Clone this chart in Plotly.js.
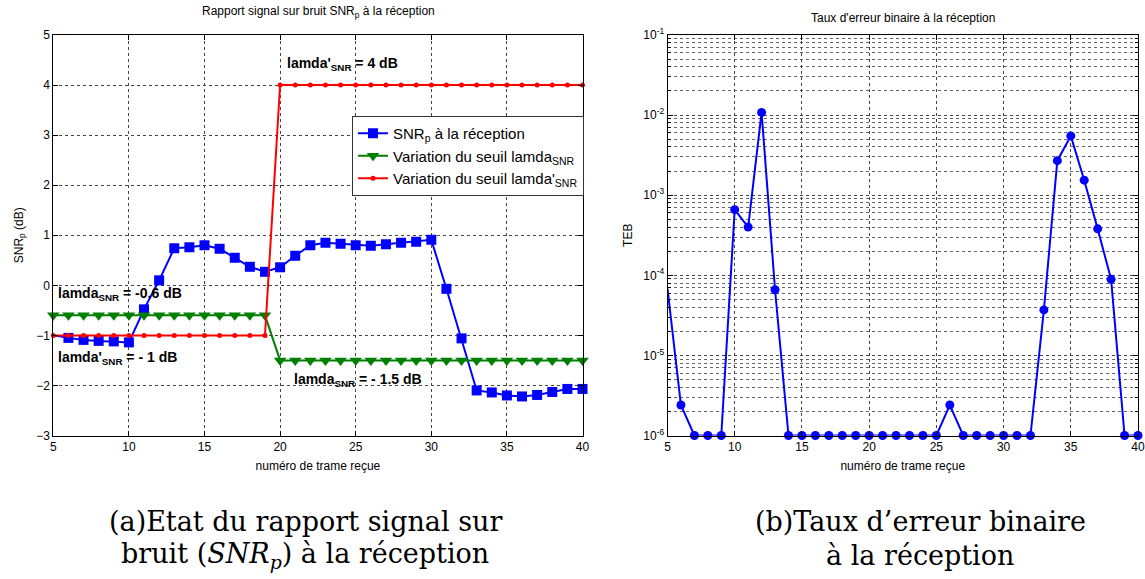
<!DOCTYPE html>
<html>
<head>
<meta charset="utf-8">
<script src="https://cdn.plot.ly/plotly-3.0.1.min.js"></script>
<style>html,body{margin:0;padding:0;background:#fff;}#chart{width:1145px;height:579px;}</style>
</head>
<body>
<div id="chart"></div>
<script>
// ---- Data ----
const frames = [5,6,7,8,9,10,11,12,13,14,15,16,17,18,19,20,21,22,23,24,25,26,27,28,29,30,31,32,33,34,35,36,37,38,39,40];
const snrP = [-1.0,-1.05,-1.09,-1.11,-1.12,-1.14,-0.48,0.1,0.74,0.76,0.8,0.73,0.55,0.37,0.27,0.36,0.59,0.8,0.85,0.83,0.8,0.79,0.82,0.85,0.87,0.91,-0.07,-1.06,-2.1,-2.14,-2.2,-2.22,-2.19,-2.13,-2.07,-2.07];
const seuilLamda = [-0.6,-0.6,-0.6,-0.6,-0.6,-0.6,-0.6,-0.6,-0.6,-0.6,-0.6,-0.6,-0.6,-0.6,-0.6,-1.5,-1.5,-1.5,-1.5,-1.5,-1.5,-1.5,-1.5,-1.5,-1.5,-1.5,-1.5,-1.5,-1.5,-1.5,-1.5,-1.5,-1.5,-1.5,-1.5,-1.5];
const seuilLamdaPrime = [-1,-1,-1,-1,-1,-1,-1,-1,-1,-1,-1,-1,-1,-1,-1,4,4,4,4,4,4,4,4,4,4,4,4,4,4,4,4,4,4,4,4,4];
const teb = [6.8e-5,2.4e-6,1e-6,1e-6,1e-6,6.6e-4,4.0e-4,1.08e-2,6.6e-5,1e-6,1e-6,1e-6,1e-6,1e-6,1e-6,1e-6,1e-6,1e-6,1e-6,1e-6,1e-6,2.4e-6,1e-6,1e-6,1e-6,1e-6,1e-6,1e-6,3.7e-5,2.7e-3,5.5e-3,1.54e-3,3.8e-4,8.9e-5,1e-6,1e-6];
const xTicks = [5,10,15,20,25,30,35,40];
const yTicksLeft = [-3,-2,-1,0,1,2,3,4,5];
const yTicksRight = [1e-6,1e-5,1e-4,1e-3,1e-2,1e-1];
const yTickTextRight = ['10<sup>-6</sup>','10<sup>-5</sup>','10<sup>-4</sup>','10<sup>-3</sup>','10<sup>-2</sup>','10<sup>-1</sup>'];

const narrow = 'Liberation Sans Narrow, Arial Narrow, Liberation Sans, sans-serif';
const blue = '#0000ff', green = '#007f00', red = '#ff0000';

const traces = [
  {x: frames.slice(0,2), y: snrP.slice(0,2), mode:'lines', line:{color:blue,width:2}, showlegend:false, xaxis:'x', yaxis:'y', hoverinfo:'skip'},
  {x: frames.slice(1), y: snrP.slice(1), mode:'lines+markers', name:'SNR<sub>p</sub> à la réception',
   line:{color:blue,width:2}, marker:{symbol:'square',size:10,color:blue}, xaxis:'x', yaxis:'y', cliponaxis:false},
  {x: frames, y: seuilLamda, mode:'lines+markers', name:'Variation du seuil lamda<sub>SNR</sub>',
   line:{color:green,width:2}, marker:{symbol:'triangle-down',size:11,color:green}, xaxis:'x', yaxis:'y', cliponaxis:false},
  {x: frames, y: seuilLamdaPrime, mode:'lines+markers', name:"Variation du seuil lamda'<sub>SNR</sub>",
   line:{color:red,width:2}, marker:{symbol:'circle',size:5,color:red}, xaxis:'x', yaxis:'y', cliponaxis:false},
  {x: frames.slice(0,2), y: teb.slice(0,2), mode:'lines', line:{color:blue,width:2}, showlegend:false, xaxis:'x2', yaxis:'y2', hoverinfo:'skip'},
  {x: frames.slice(1), y: teb.slice(1), mode:'lines+markers', showlegend:false,
   line:{color:blue,width:2}, marker:{symbol:'circle',size:9,color:blue}, xaxis:'x2', yaxis:'y2', cliponaxis:false}
];

const axisCommon = {
  showline:true, mirror:'ticks', linecolor:'#000', linewidth:1,
  ticks:'inside', ticklen:5, tickcolor:'#000',
  showgrid:true, gridcolor:'#444', griddash:'dot', gridwidth:1,
  zeroline:false, tickfont:{family:narrow,size:12,color:'#000'}
};

const H = 579, W = 1145;
const serif = 'DejaVu Serif, Liberation Serif, serif';
const boldFont = {family:'Liberation Sans, Arial, sans-serif',size:14,color:'#000'};
const layout = {
  width: W, height: H,
  margin:{l:0,r:0,t:0,b:0},
  paper_bgcolor:'#fff', plot_bgcolor:'#fff',
  showlegend:true,
  legend:{x:352/W, y:1-116/H, xanchor:'left', yanchor:'top', bgcolor:'#fff', bordercolor:'#333', borderwidth:1,
          font:{family:narrow,size:15,color:'#000'}},
  xaxis: Object.assign({}, axisCommon, {domain:[53.3/W, 582.5/W], range:[5,40], tickvals:xTicks, anchor:'y',
          title:{text:'numéro de trame reçue', font:{family:narrow,size:12,color:'#000'}, standoff:8}}),
  yaxis: Object.assign({}, axisCommon, {domain:[1-435.5/H, 1-35/H], range:[-3,5], tickvals:yTicksLeft, anchor:'x',
          title:{text:'SNR<sub>p</sub> (dB)', font:{family:narrow,size:12,color:'#000'}, standoff:10}}),
  xaxis2: Object.assign({}, axisCommon, {domain:[667.5/W, 1138/W], range:[5,40], tickvals:xTicks, anchor:'y2',
          title:{text:'numéro de trame reçue', font:{family:narrow,size:12,color:'#000'}, standoff:8}}),
  yaxis2: Object.assign({}, axisCommon, {domain:[1-435.5/H, 1-35/H], type:'log', range:[-6,-1], tickvals:yTicksRight, ticktext:yTickTextRight, anchor:'x2',
          minor:{showgrid:true, gridcolor:'#666', griddash:'dot', gridwidth:1, dtick:'D1', ticks:'inside', ticklen:3, tickcolor:'#000'},
          title:{text:'TEB', font:{family:narrow,size:12,color:'#000'}, standoff:8}}),
  annotations:[
    {xref:'paper', yref:'paper', x:318/W, y:1-12/H, xanchor:'center', yanchor:'middle', text:'Rapport signal sur bruit SNR<sub>p</sub> à la réception', showarrow:false,
     font:{family:narrow,size:12,color:'#000'}},
    {xref:'paper', yref:'paper', x:903/W, y:1-18/H, xanchor:'center', yanchor:'middle', text:"Taux d'erreur binaire à la réception", showarrow:false,
     font:{family:narrow,size:12,color:'#000'}},
    {xref:'x', yref:'y', x:20.3, y:4.42, xanchor:'left', text:"<b>lamda'<sub>SNR</sub> = 4 dB</b>", showarrow:false, font:boldFont},
    {xref:'x', yref:'y', x:5.2, y:-0.17, xanchor:'left', text:"<b>lamda<sub>SNR</sub> = -0.6 dB</b>", showarrow:false, font:boldFont},
    {xref:'x', yref:'y', x:5.2, y:-1.45, xanchor:'left', text:"<b>lamda'<sub>SNR</sub> = - 1 dB</b>", showarrow:false, font:boldFont},
    {xref:'x', yref:'y', x:20.8, y:-1.9, xanchor:'left', text:"<b>lamda<sub>SNR</sub> = - 1.5 dB</b>", showarrow:false, font:boldFont},
    {xref:'paper', yref:'paper', x:305/W, y:1-521/H, xanchor:'center', yanchor:'middle', text:'(a)Etat du rapport signal sur', showarrow:false,
     font:{family:serif,size:27,color:'#000'}},
    {xref:'paper', yref:'paper', x:305/W, y:1-555/H, xanchor:'center', yanchor:'middle', text:'bruit (<i>SNR</i><sub><i>p</i></sub>) à la réception', showarrow:false,
     font:{family:serif,size:27,color:'#000'}},
    {xref:'paper', yref:'paper', x:920/W, y:1-521/H, xanchor:'center', yanchor:'middle', text:"(b)Taux d’erreur binaire", showarrow:false,
     font:{family:serif,size:27,color:'#000'}},
    {xref:'paper', yref:'paper', x:920/W, y:1-555/H, xanchor:'center', yanchor:'middle', text:'à la réception', showarrow:false,
     font:{family:serif,size:27,color:'#000'}}
  ]
};

Plotly.newPlot('chart', traces, layout, {displayModeBar:false, staticPlot:true});
</script>
</body>
</html>
